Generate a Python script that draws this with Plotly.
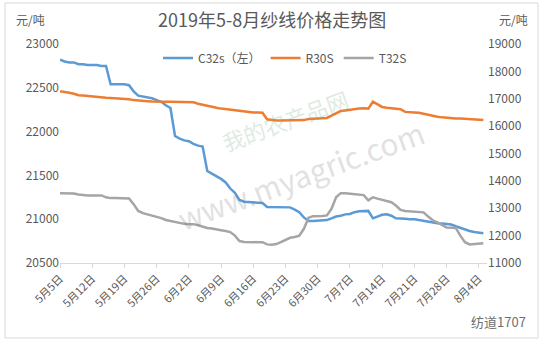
import pandas as pd
import plotly.graph_objects as go

# ---- data ----
start_date = "2019-05-05"
n_days = 93
dates = pd.date_range(start_date, periods=n_days, freq="D")

c32s = [22820, 22800, 22790, 22790, 22770, 22770, 22760, 22760, 22760, 22750,
        22750, 22540, 22540, 22540, 22540, 22530, 22460, 22410, 22400, 22390,
        22380, 22360, 22340, 22300, 22270, 21950, 21920, 21900, 21890, 21860,
        21840, 21830, 21550, 21520, 21490, 21460, 21420, 21350, 21300, 21220,
        21200, 21195, 21190, 21190, 21185, 21140, 21140, 21140, 21140, 21135,
        21135, 21110, 21080, 21020, 20980, 20980, 20985, 20985, 20990, 21010,
        21030, 21040, 21055, 21060, 21080, 21090, 21095, 21095, 21010, 21030,
        21050, 21055, 21040, 21010, 21010, 21005, 21000, 21000, 20990, 20980,
        20975, 20965, 20955, 20950, 20945, 20940, 20920, 20900, 20880, 20865,
        20855, 20850, 20840]

r30s = [17270, 17250, 17220, 17180, 17130, 17120, 17100, 17090, 17070, 17050,
        17040, 17030, 17020, 17010, 17000, 16980, 16950, 16930, 16920, 16910,
        16900, 16890, 16895, 16890, 16890, 16890, 16885, 16890, 16885, 16870,
        16820, 16780, 16730, 16700, 16670, 16640, 16620, 16600, 16570, 16540,
        16520, 16510, 16500, 16500, 16490, 16250, 16220, 16210, 16210, 16210,
        16210, 16210, 16210, 16220, 16260, 16270, 16270, 16280, 16300, 16380,
        16480, 16550, 16570, 16600, 16620, 16640, 16650, 16640, 16890, 16800,
        16700, 16670, 16660, 16650, 16620, 16520, 16500, 16500, 16490, 16450,
        16400, 16380, 16340, 16320, 16300, 16290, 16280, 16280, 16270, 16260,
        16250, 16230, 16220]

t32s = [13550, 13550, 13550, 13540, 13500, 13480, 13470, 13470, 13470, 13470,
        13400, 13370, 13370, 13370, 13370, 13360, 13150, 12900, 12820, 12780,
        12720, 12680, 12640, 12570, 12530, 12500, 12450, 12430, 12420, 12420,
        12380, 12320, 12280, 12260, 12240, 12200, 12170, 12130, 12000, 11800,
        11770, 11760, 11760, 11760, 11760, 11680, 11670, 11690, 11760, 11850,
        11920, 11950, 12000, 12250, 12650, 12710, 12710, 12720, 12740, 12980,
        13400, 13550, 13550, 13530, 13520, 13510, 13480, 13290, 13400, 13350,
        13310, 13260, 13220, 13100, 12940, 12900, 12890, 12880, 12870, 12850,
        12700, 12560, 12480, 12380, 12300, 12290, 12280, 12000, 11760, 11680,
        11690, 11700, 11720]

tick_dates = ["2019-05-05", "2019-05-12", "2019-05-19", "2019-05-26", "2019-06-02",
              "2019-06-09", "2019-06-16", "2019-06-23", "2019-06-30", "2019-07-07",
              "2019-07-14", "2019-07-21", "2019-07-28", "2019-08-04"]
tick_labels = ["5月5日", "5月12日", "5月19日", "5月26日", "6月2日", "6月9日",
               "6月16日", "6月23日", "6月30日", "7月7日", "7月14日", "7月21日",
               "7月28日", "8月4日"]

title_text = "2019年5-8月纱线价格走势图"
unit_text = "元/吨"

# ---- figure ----
W, H = 547, 346
L, R, T, B = 60, 60, 44, 83
pw, ph = W - L - R, H - T - B


def px_x(px):
    return (px - L) / pw


def px_y(py):
    return (H - B - py) / ph


FONT = "Noto Sans CJK SC, Liberation Sans, sans-serif"
GREY_TXT = "#595959"

fig = go.Figure()
fig.add_trace(go.Scatter(x=dates, y=c32s, name="C32s（左）", mode="lines",
                         line=dict(color="#5B9BD5", width=2.5), yaxis="y"))
fig.add_trace(go.Scatter(x=dates, y=r30s, name="R30S", mode="lines",
                         line=dict(color="#ED7D31", width=2.5), yaxis="y2"))
fig.add_trace(go.Scatter(x=dates, y=t32s, name="T32S", mode="lines",
                         line=dict(color="#A5A5A5", width=2.5), yaxis="y2"))

fig.update_layout(
    width=W, height=H,
    margin=dict(l=L, r=R, t=T, b=B, pad=0),
    paper_bgcolor="white", plot_bgcolor="white",
    font=dict(family=FONT, color=GREY_TXT, size=12),
    showlegend=True,
    legend=dict(orientation="h", x=px_x(285), y=px_y(58), xanchor="center",
                yanchor="middle", bgcolor="rgba(0,0,0,0)",
                font=dict(size=12, color=GREY_TXT), itemwidth=30,
                tracegroupgap=0),
    xaxis=dict(type="date", range=["2019-05-05", "2019-08-05 19:00"],
               tickvals=tick_dates, ticktext=tick_labels, tickangle=-45,
               showgrid=False, zeroline=False,
               showline=True, linecolor="#d9d9d9", linewidth=1,
               ticks="outside", ticklen=4, tickcolor="#d9d9d9",
               tickfont=dict(size=11, color=GREY_TXT)),
    yaxis=dict(range=[20500, 23000], dtick=500, showgrid=False, zeroline=False,
               showline=False, ticks="", tickformat="d",
               tickfont=dict(size=12, color=GREY_TXT)),
    yaxis2=dict(range=[11000, 19000], dtick=1000, overlaying="y", side="right",
                showgrid=False, zeroline=False, showline=False, ticks="",
                tickformat="d", tickfont=dict(size=12, color=GREY_TXT)),
    shapes=[dict(type="rect", xref="paper", yref="paper",
                 x0=px_x(5), x1=px_x(538), y0=px_y(338), y1=px_y(3),
                 line=dict(color="#d9d9d9", width=1), layer="below")],
    annotations=[
        dict(text=title_text, xref="paper", yref="paper", x=px_x(272), y=px_y(19),
             showarrow=False, font=dict(size=18, color=GREY_TXT),
             xanchor="center", yanchor="middle"),
        dict(text=unit_text, xref="paper", yref="paper", x=px_x(30), y=px_y(19),
             showarrow=False, font=dict(size=12, color=GREY_TXT),
             xanchor="center", yanchor="middle"),
        dict(text=unit_text, xref="paper", yref="paper", x=px_x(513), y=px_y(19),
             showarrow=False, font=dict(size=12, color=GREY_TXT),
             xanchor="center", yanchor="middle"),
        dict(text="我的农产品网", xref="paper", yref="paper", x=px_x(355), y=px_y(120),
             showarrow=False, textangle=-20, opacity=0.25,
             font=dict(size=22, color="#7fb08a")),
        dict(text="www.myagric.com", xref="paper", yref="paper", x=px_x(300), y=px_y(175),
             showarrow=False, textangle=-20, opacity=0.2,
             font=dict(size=30, color="#707070")),
        dict(text="纺道1707", xref="paper", yref="paper", x=px_x(528), y=px_y(321),
             showarrow=False, xanchor="right", yanchor="middle",
             font=dict(size=13, color="#707070")),
    ],
)

fig.write_html("out.html")
